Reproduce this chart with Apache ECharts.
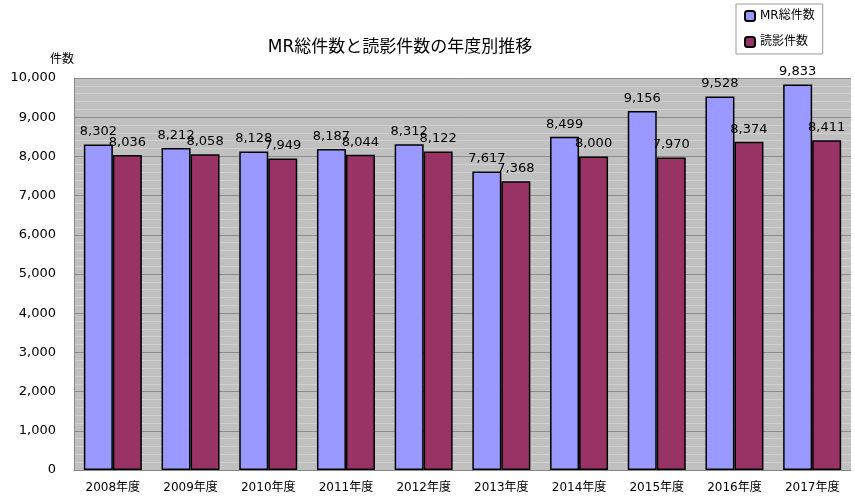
<!DOCTYPE html><html><head><meta charset="utf-8"><script src="https://cdn.jsdelivr.net/npm/echarts@6/dist/echarts.min.js"></script></head><body style="margin:0;background:#fff"><div id="c" style="width:855px;height:502px"></div><script>
const categories=['2008年度','2009年度','2010年度','2011年度','2012年度','2013年度','2014年度','2015年度','2016年度','2017年度'];
const mrTotal=[8302,8212,8128,8187,8312,7617,8499,9156,9528,9833];
const readTotal=[8036,8058,7949,8044,8122,7368,8000,7970,8374,8411];
const F='Verdana, "DejaVu Sans", "Noto Sans CJK JP", sans-serif';
const ch=echarts.init(document.getElementById('c'));
const lab={show:true,position:'top',color:'#000',fontSize:13,fontFamily:F,distance:6,formatter:p=>p.value.toLocaleString('en-US')};
ch.setOption({
 animation:false,
 title:{text:'MR総件数と読影件数の年度別推移',left:395,top:34,textAlign:'center',textStyle:{fontSize:17,fontWeight:'normal',color:'#000',fontFamily:F}},
 legend:{orient:'vertical',left:736,top:4,width:88,height:50,padding:[6,8,6,8],itemGap:14,borderColor:'#999',borderWidth:1,itemWidth:10,itemHeight:10,textStyle:{fontSize:12,fontFamily:F,color:'#000'},data:['MR総件数','読影件数']},
 grid:{left:74,right:4,top:78,bottom:32},
 xAxis:{type:'category',data:categories,axisLine:{lineStyle:{color:'#888'}},axisTick:{show:false},axisLabel:{color:'#000',fontSize:12,fontFamily:F,margin:12}},
 yAxis:{type:'value',min:0,max:10000,interval:1000,name:'件数',nameLocation:'end',nameGap:12,nameTextStyle:{color:'#000',fontSize:12,fontFamily:F,align:'right',padding:[0,0,0,0]},
  axisLine:{show:true,lineStyle:{color:'#888'}},axisTick:{show:true,inside:true,length:5,lineStyle:{color:'#888'}},
  axisLabel:{color:'#000',fontSize:13,fontFamily:F,margin:18,formatter:v=>v.toLocaleString('en-US')},
  splitLine:{lineStyle:{color:'#8c8c8c'}},minorTick:{show:false,splitNumber:5},minorSplitLine:{show:true,lineStyle:{color:'#d0d0d0'}},
  splitArea:{show:true,areaStyle:{color:['#c0c0c0','#c0c0c0']}}},
 series:[
  {name:'MR総件数',type:'bar',data:mrTotal,barWidth:29,barGap:'0%',itemStyle:{color:'#9999ff',borderColor:'#000',borderWidth:1.5},label:lab},
  {name:'読影件数',type:'bar',data:readTotal,barWidth:29,itemStyle:{color:'#993366',borderColor:'#000',borderWidth:1.5},label:lab}
 ]});
</script></body></html>
